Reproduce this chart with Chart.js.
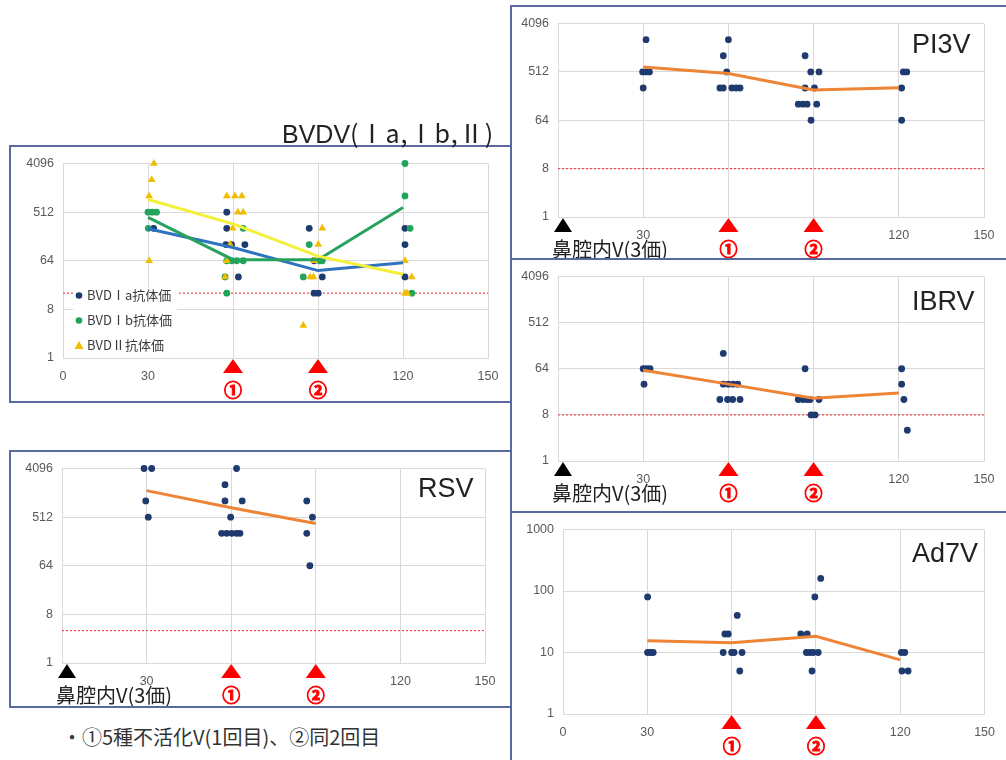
<!DOCTYPE html>
<html lang="ja">
<head>
<meta charset="utf-8">
<title>抗体価の推移</title>
<script src="https://cdn.jsdelivr.net/npm/chart.js@4.4.1/dist/chart.umd.min.js"></script>
<style>
  body { margin:0; width:1006px; height:760px; overflow:hidden; background:#fff; position:relative;
         font-family:"Noto Sans CJK JP", sans-serif; }
  .frame { position:absolute; border:2px solid #5b6a9c; box-sizing:border-box; }
  canvas { position:absolute; }
  .name { position:absolute; font-family:"Liberation Sans", Arial, sans-serif; font-size:27px; line-height:27px; color:#222; white-space:nowrap; }
  .ttl { position:absolute; left:282px; top:119px; font-size:25px; line-height:27px; color:#222; white-space:nowrap; letter-spacing:1px; }
  .ttl b { font-weight:normal; font-family:"Liberation Sans", Arial, sans-serif; letter-spacing:0; }
  .note { position:absolute; left:62px; top:726px; font-size:20px; line-height:22px; color:#333; white-space:nowrap; }
</style>
</head>
<body>
<div class="frame" style="left:9px;top:145px;width:503px;height:258px"></div>
<div class="frame" style="left:9px;top:450px;width:503px;height:258px"></div>
<div class="frame" style="left:510px;top:5px;width:520px;height:255px"></div>
<div class="frame" style="left:510px;top:258px;width:520px;height:255px"></div>
<div class="frame" style="left:510px;top:511px;width:520px;height:270px"></div>

<canvas id="bvdv" width="499" height="254" style="left:11px;top:147px"></canvas>
<canvas id="rsv"  width="499" height="254" style="left:11px;top:452px"></canvas>
<canvas id="pi3v" width="494" height="251" style="left:512px;top:7px"></canvas>
<canvas id="ibrv" width="494" height="251" style="left:512px;top:260px"></canvas>
<canvas id="ad7v" width="494" height="247" style="left:512px;top:513px"></canvas>

<div class="ttl"><b>BVDV</b>(Ⅰa,Ⅰb,Ⅱ)</div>
<div class="name" style="left:912px;top:31px">PI3V</div>
<div class="name" style="left:912px;top:288px">IBRV</div>
<div class="name" style="left:912px;top:540px">Ad7V</div>
<div class="name" style="left:418px;top:475px">RSV</div>
<div class="note">・①5種不活化V(1回目)、②同2回目</div>

<script>
//------------------ データ ------------------//
// 日齢(横軸)
const xTicks = [0, 30, 60, 90, 120, 150]
const meanDay = [30, 60, 90, 120]
const shotDays = [60, 90]            // ①, ② ワクチン接種日
const shotLabels = ['①', '②']
const nasalLabel = '鼻腔内V(3価)'
// 縦軸目盛
const log2Ticks = [1, 8, 64, 512, 4096]
const log10Ticks = [1, 10, 100, 1000]

// BVDV Ⅰa
const bvd1aDay   = [32.0, 57.8, 57.8, 57.5, 59.5, 64.2, 61.9, 86.9, 88.6, 91.5, 88.6, 90.1, 120.7, 120.7, 120.7]
const bvd1aTiter = [256, 512, 256, 128, 128, 128, 32, 256, 64, 32, 16, 16, 256, 128, 32]
const bvd1aMean  = [252, 113, 42, 59]
// BVDV Ⅰb
const bvd1bDay   = [30.0, 31.5, 33.0, 30.1, 63.6, 57.8, 59.5, 61.3, 63.6, 57.2, 57.8, 86.9, 91.5, 90.5, 84.8, 120.7, 120.7, 122.5, 123.1]
const bvd1bTiter = [512, 512, 512, 256, 256, 64, 64, 64, 64, 32, 16, 128, 64, 64, 32, 4096, 1024, 256, 16]
const bvd1bMean  = [410, 67, 67, 622]
// BVDV Ⅱ
const bvd2Day   = [32.1, 31.3, 30.4, 30.4, 57.8, 60.7, 63.1, 61.7, 63.6, 59.9, 59.0, 57.8, 57.2, 91.5, 90.1, 88.7, 87.2, 88.4, 84.8, 120.7, 123.1, 120.7, 121.5]
const bvd2Titer = [4096, 2048, 1024, 64, 1024, 1024, 1024, 512, 512, 256, 128, 64, 32, 256, 128, 64, 32, 32, 4, 64, 32, 16, 16]
const bvd2Mean  = [880, 310, 78, 36]
const bvdvCut = 16

// PI3V
const pi3vDay   = [31.0, 29.8, 31.0, 32.2, 30.0, 60.0, 58.2, 59.4, 57.0, 58.2, 61.2, 62.7, 64.1, 87.0, 89.0, 91.9, 87.0, 90.3, 84.6, 86.2, 87.7, 91.1, 89.1, 121.6, 122.8, 121.0, 121.0]
const pi3vTiter = [2048, 512, 512, 512, 256, 2048, 1024, 512, 256, 256, 256, 256, 256, 1024, 512, 512, 256, 256, 128, 128, 128, 128, 64, 512, 512, 256, 64]
const pi3vMean  = [630, 478, 236, 260]
const pi3vCut = 8

// IBRV
const ibrvDay   = [30.0, 31.2, 32.4, 30.3, 58.2, 58.2, 60.0, 61.7, 63.3, 57.0, 59.7, 61.5, 64.1, 87.0, 84.6, 86.2, 87.6, 88.8, 91.9, 89.1, 90.5, 121.0, 121.0, 121.8, 123.0]
const ibrvTiter = [64, 64, 64, 32, 128, 32, 32, 32, 32, 16, 16, 16, 16, 64, 16, 16, 16, 16, 16, 8, 8, 64, 32, 16, 4]
const ibrvMean  = [60, 32, 17, 21.5]
const ibrvCut = 8

// RSV
const rsvDay   = [29.1, 31.8, 29.7, 30.6, 61.9, 57.8, 57.8, 63.9, 59.8, 56.6, 58.4, 60.2, 61.9, 63.1, 86.8, 88.8, 86.8, 87.9]
const rsvTiter = [4096, 4096, 1024, 512, 4096, 2048, 1024, 1024, 512, 256, 256, 256, 256, 256, 1024, 512, 256, 64]
const rsvMeanDay = [30, 60, 90]
const rsvMean  = [1590, 765, 390]
const rsvCut = 4

// Ad7V
const ad7vDay   = [30.1, 30.1, 31.2, 32.1, 57.6, 58.8, 57.0, 60.0, 60.9, 63.7, 62.0, 62.9, 84.6, 86.9, 86.6, 87.8, 89.0, 90.8, 89.6, 91.7, 88.6, 120.4, 121.6, 120.6, 122.8]
const ad7vTiter = [80, 10, 10, 10, 20, 20, 10, 10, 10, 10, 40, 5, 20, 20, 10, 10, 10, 10, 80, 160, 5, 10, 10, 5, 5]
const ad7vMean  = [15.5, 14.4, 18.4, 7.6]
//-------------------------------------------//

// 色
const NAVY = '#1f3a6e'
const GREEN = '#22a35a'
const GOLD = '#f2bd00'
const ORANGE = '#ed8436'
const GRID = '#d9d9d9'
const TICK_FONT = {family: '"Liberation Sans", Arial, sans-serif', size: 12.5}

function pts(xs, ys){
    return xs.map((x, i) => ({x: x, y: ys[i]}))
}

// 点の系列
function dots(label, xs, ys, color, style){
    return {
        label: label, data: pts(xs, ys), clip: false,
        pointStyle: style || 'circle', pointRadius: style ? 4.5 : 3.4,
        backgroundColor: color, borderColor: color, borderWidth: 0
    }
}

// 平均の折れ線
function meanLine(label, xs, ys, color){
    return {
        type: 'line', label: label, data: pts(xs, ys), showLine: true,
        borderColor: color, borderWidth: 3, pointRadius: 0, fill: false, clip: false
    }
}

// 赤い点線 (基準値)
function cutLine(v){
    return {
        type: 'line', label: 'cut', data: pts([0, 150], [v, v]), showLine: true,
        borderColor: '#f04848', borderWidth: 1.2, borderDash: [2, 2], pointRadius: 0, fill: false
    }
}

/*--------------------------------------------------------------------
横軸下の▲と①②、鼻腔内V のマーク
--------------------------------------------------------------------*/
const shotMarks = {
    id: 'shotMarks',
    afterDraw(chart, args, opt){
        const ctx = chart.ctx
        const a = chart.chartArea
        const x = chart.scales.x
        const tri = (cx, color, half) => {
            ctx.beginPath()
            ctx.moveTo(cx, a.bottom + 1)
            ctx.lineTo(cx + half, a.bottom + 15)
            ctx.lineTo(cx - half, a.bottom + 15)
            ctx.closePath()
            ctx.fillStyle = color
            ctx.fill()
        }
        ctx.save()
        ctx.textAlign = 'center'
        ctx.textBaseline = 'middle'
        ctx.font = 'bold 18px "Noto Sans CJK JP"'
        ctx.lineWidth = 1
        shotDays.forEach((d, i) => {
            const cx = x.getPixelForValue(d)
            tri(cx, '#ff0000', 10)
            ctx.fillStyle = '#ff0000'
            ctx.strokeStyle = '#ff0000'
            ctx.fillText(shotLabels[i], cx, a.bottom + 32)
            ctx.strokeText(shotLabels[i], cx, a.bottom + 32)
        })
        if (opt.nasal){
            const cx = x.getPixelForValue(0)
            tri(cx + 5, '#000000', 9)
            ctx.textAlign = 'left'
            ctx.font = '20px "Noto Sans CJK JP"'
            ctx.fillStyle = '#222'
            ctx.fillText(nasalLabel, cx - 6, a.bottom + 32)
        }
        ctx.restore()
    }
}

/*--------------------------------------------------------------------
BVDV の凡例 (グラフ内左下)
--------------------------------------------------------------------*/
const bvdLegend = {
    id: 'bvdLegend',
    afterDraw(chart){
        const ctx = chart.ctx
        const a = chart.chartArea
        const items = [
            ['BVDⅠa抗体価', NAVY, false],
            ['BVDⅠb抗体価', GREEN, false],
            ['BVDⅡ抗体価', GOLD, true]
        ]
        const x0 = a.left + 10, y0 = a.top + 124
        ctx.save()
        ctx.fillStyle = '#fff'
        ctx.fillRect(x0, y0, 104, 70)
        ctx.font = '13px "Noto Sans CJK JP"'
        ctx.textBaseline = 'middle'
        items.forEach((it, i) => {
            const y = y0 + 8 + i * 25
            ctx.fillStyle = it[1]
            ctx.beginPath()
            if (it[2]){
                ctx.moveTo(x0 + 6, y - 4.5)
                ctx.lineTo(x0 + 10.5, y + 3.5)
                ctx.lineTo(x0 + 1.5, y + 3.5)
                ctx.closePath()
            }
            else{
                ctx.arc(x0 + 6, y, 3.3, 0, Math.PI * 2)
            }
            ctx.fill()
            ctx.fillStyle = '#3a3a3a'
            ctx.fillText(it[0], x0 + 14, y)
        })
        ctx.restore()
    }
}

/*--------------------------------------------------------------------
グラフを作る関数
--------------------------------------------------------------------*/
function plotPanel(canvas_id, datasets, box, yScale, nasal, extra){
    const yTicks = yScale.ticks
    new Chart(document.getElementById(canvas_id), {
        type: 'scatter',
        data: {datasets: datasets},
        options: {
            responsive: false, animation: false, devicePixelRatio: 1,
            layout: {padding: {top: box.top, right: box.right, left: 0, bottom: 0}},
            plugins: {legend: {display: false}, tooltip: {enabled: false}, shotMarks: {nasal: nasal}},
            scales: {
                x: {
                    type: 'linear', min: 0, max: 150,
                    afterBuildTicks: ax => { ax.ticks = xTicks.map(v => ({value: v})) },
                    afterFit: ax => { ax.height = box.bottom },
                    ticks: {
                        font: TICK_FONT, color: '#595959', padding: 11, maxRotation: 0, autoSkip: false,
                        callback: v => (v == 60 || v == 90 || (nasal && v == 0)) ? '' : String(v)
                    },
                    grid: {color: GRID, drawTicks: false},
                    border: {color: GRID}
                },
                y: {
                    type: 'logarithmic', min: yScale.min, max: yScale.max,
                    afterBuildTicks: ax => { ax.ticks = yTicks.map(v => ({value: v})) },
                    afterFit: ax => { ax.width = box.left },
                    ticks: {font: TICK_FONT, color: '#595959', padding: 9, autoSkip: false, callback: v => String(v)},
                    grid: {color: GRID, drawTicks: false},
                    border: {color: GRID}
                }
            }
        },
        plugins: [shotMarks].concat(extra || [])
    })
}

const log2Axis = {min: 1, max: 4096, ticks: log2Ticks}
const log10Axis = {min: 1, max: 1000, ticks: log10Ticks}

plotPanel('bvdv', [
    meanLine('Ⅱ平均', meanDay, bvd2Mean, '#f4f03a'),
    meanLine('Ⅰb平均', meanDay, bvd1bMean, '#27a35e'),
    meanLine('Ⅰa平均', meanDay, bvd1aMean, '#2f72c0'),
    dots('BVDⅡ抗体価', bvd2Day, bvd2Titer, GOLD, 'triangle'),
    dots('BVDⅠb抗体価', bvd1bDay, bvd1bTiter, GREEN),
    dots('BVDⅠa抗体価', bvd1aDay, bvd1aTiter, NAVY),
    cutLine(bvdvCut)
], {left: 52, top: 11, right: 22, bottom: 43}, log2Axis, false, [bvdLegend])

plotPanel('pi3v', [
    meanLine('平均', meanDay, pi3vMean, ORANGE),
    dots('PI3V', pi3vDay, pi3vTiter, NAVY),
    cutLine(pi3vCut)
], {left: 46, top: 14, right: 22, bottom: 41}, log2Axis, true)

plotPanel('ibrv', [
    meanLine('平均', meanDay, ibrvMean, ORANGE),
    dots('IBRV', ibrvDay, ibrvTiter, NAVY),
    cutLine(ibrvCut)
], {left: 46, top: 15, right: 22, bottom: 50}, log2Axis, true)

plotPanel('rsv', [
    meanLine('平均', rsvMeanDay, rsvMean, ORANGE),
    dots('RSV', rsvDay, rsvTiter, NAVY),
    cutLine(rsvCut)
], {left: 51, top: 14, right: 25, bottom: 43}, log2Axis, true)

plotPanel('ad7v', [
    meanLine('平均', meanDay, ad7vMean, ORANGE),
    dots('Ad7V', ad7vDay, ad7vTiter, NAVY)
], {left: 51, top: 12, right: 21, bottom: 46}, log10Axis, false)
</script>
</body>
</html>
